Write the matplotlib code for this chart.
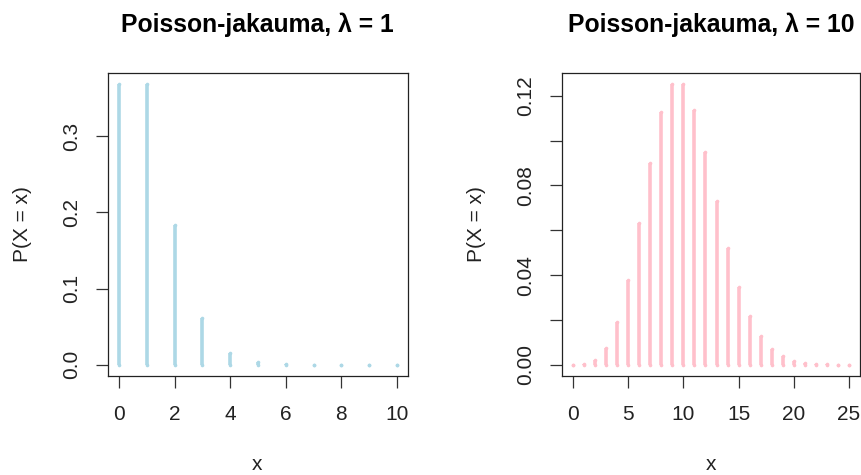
import matplotlib.pyplot as plt

plt.rcParams['font.family'] = ['Liberation Sans', 'DejaVu Sans']

# Poisson pmf values
x1 = list(range(0, 11))
p1 = [0.3679, 0.3679, 0.1839, 0.0613, 0.0153, 0.0031, 0.0005, 0.0001, 0.0000, 0.0000, 0.0000]

x10 = list(range(0, 26))
p10 = [0.00005, 0.00045, 0.00227, 0.00757, 0.01892, 0.03783, 0.06306, 0.09008,
       0.11260, 0.12511, 0.12511, 0.11374, 0.09478, 0.07291, 0.05208, 0.03472,
       0.02170, 0.01276, 0.00709, 0.00373, 0.00187, 0.00089, 0.00040, 0.00018,
       0.00007, 0.00003]

W, H = 861, 475
fig = plt.figure(figsize=(W / 100, H / 100), dpi=100)


def px_axes(l, t, r, b):
    return fig.add_axes([l / W, 1 - b / H, (r - l) / W, (b - t) / H])


def style(ax):
    for s in ax.spines.values():
        s.set_linewidth(0.9)
        s.set_color('#222222')
    ax.tick_params(length=8.6, width=0.9, color='#333333', labelsize=15,
                   labelcolor='#222222')
    ax.tick_params(axis='x', pad=12)
    ax.tick_params(axis='y', pad=11, labelrotation=90)
    for lab in ax.get_yticklabels():
        lab.set_va('center')


def stems(ax, xs, ys, color):
    # type="h" style: vertical lines with round ends, so zero heights show as dots
    for xv, yv in zip(xs, ys):
        ax.plot([xv, xv], [0, yv], color=color, lw=2.6, solid_capstyle='butt',
                marker='o', ms=2.6, mew=0, mfc=color)


# left panel
ax1 = px_axes(108, 73, 408, 376)
stems(ax1, x1, p1, '#ADD8E6')
ax1.set_xlim(-0.4, 10.4)
ax1.set_ylim(-0.0147, 0.3826)
ax1.set_xticks([0, 2, 4, 6, 8, 10])
ax1.set_yticks([0.0, 0.1, 0.2, 0.3])
ax1.set_yticklabels(['0.0', '0.1', '0.2', '0.3'])
style(ax1)

# right panel
ax2 = px_axes(562, 73, 860, 376)
stems(ax2, x10, p10, '#FFC0CB')
ax2.set_xlim(-1, 26)
ax2.set_ylim(-0.005, 0.1301)
ax2.set_xticks([0, 5, 10, 15, 20, 25])
ax2.set_yticks([0.0, 0.02, 0.04, 0.06, 0.08, 0.10, 0.12])
ax2.set_yticklabels(['0.00', '', '0.04', '', '0.08', '', '0.12'])
style(ax2)

for ax in (ax1, ax2):
    for lab in ax.get_yticklabels():
        lab.set_va('center')

# titles and axis labels
fig.text(257 / W, 1 - 32 / H, 'Poisson-jakauma, λ = 1', ha='center', va='baseline',
         fontsize=17.8, fontweight='bold')
fig.text(711 / W, 1 - 32 / H, 'Poisson-jakauma, λ = 10', ha='center', va='baseline',
         fontsize=17.8, fontweight='bold')
fig.text(257 / W, 1 - 465 / H, 'x', ha='center', va='center', fontsize=15, color='#222222')
fig.text(711 / W, 1 - 465 / H, 'x', ha='center', va='center', fontsize=15, color='#222222')
fig.text(22 / W, 1 - 224 / H, 'P(X = x)', ha='center', va='center', rotation=90,
         fontsize=15, color='#222222')
fig.text(477 / W, 1 - 224 / H, 'P(X = x)', ha='center', va='center', rotation=90,
         fontsize=15, color='#222222')

fig.savefig('out.png', dpi=100)
